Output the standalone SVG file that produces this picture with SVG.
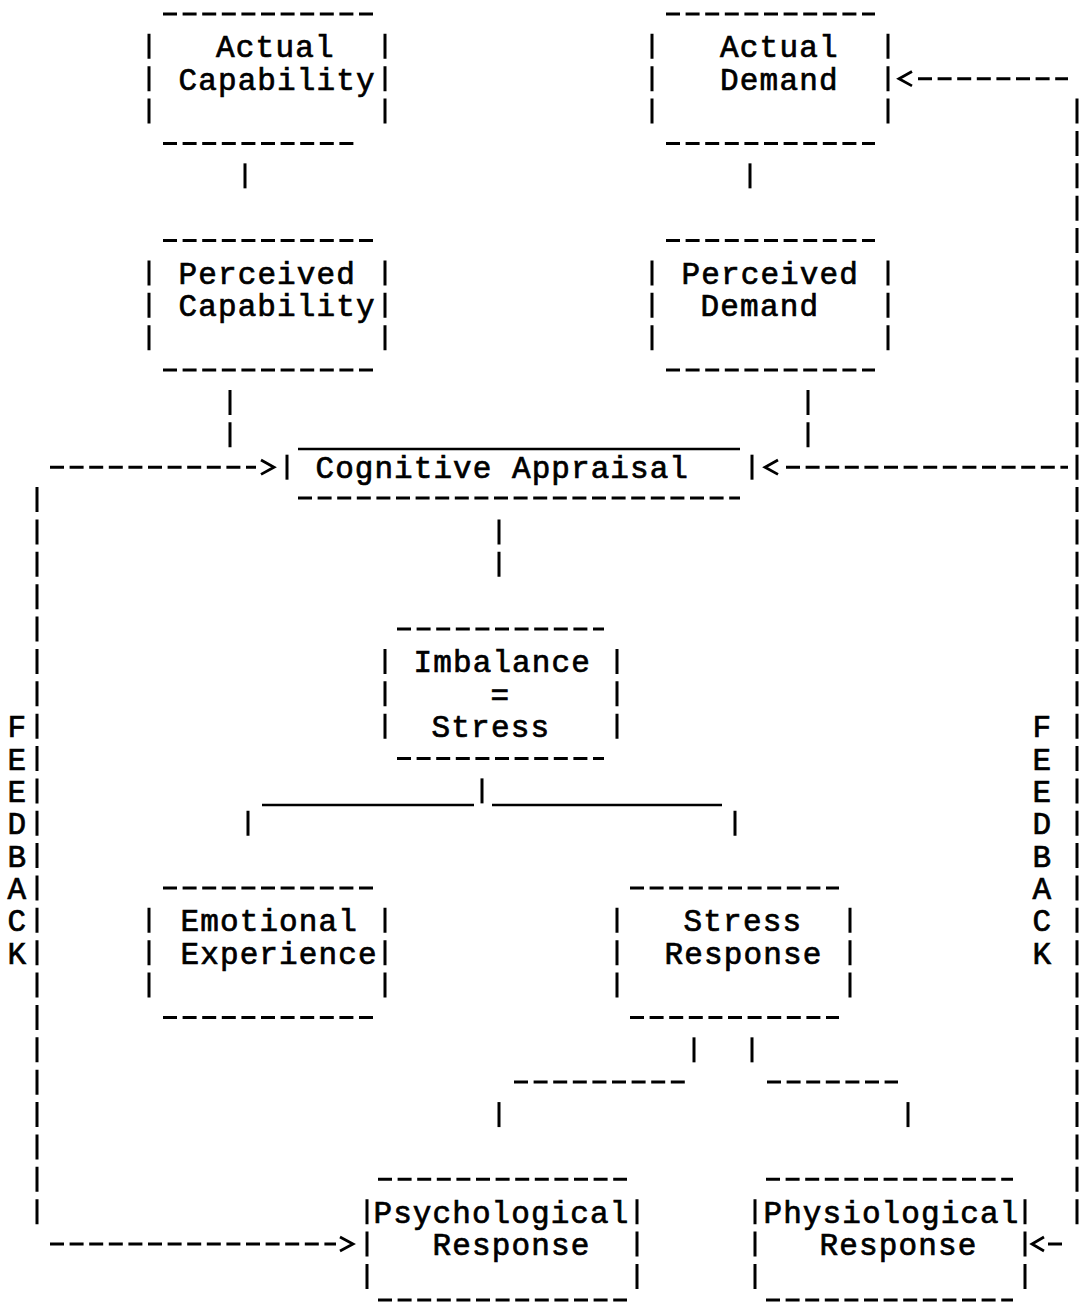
<svg xmlns="http://www.w3.org/2000/svg" width="1080" height="1302" viewBox="0 0 1080 1302">
<style>
.d{stroke:#000;stroke-width:3;stroke-dasharray:14 5.6;fill:none}
.v{stroke:#000;stroke-width:3;stroke-dasharray:25 7.37;fill:none}
.s{stroke:#000;stroke-width:2.5;fill:none}
.a{stroke:#000;stroke-width:2.8;fill:none;stroke-linejoin:miter}
text{font-family:"Liberation Mono","DejaVu Sans Mono",monospace;font-size:31px;font-weight:normal;fill:#000;stroke:#000;stroke-width:0.7}
</style>
<rect width="1080" height="1302" fill="#fff"/>
<g id="connectors">
  <line class="v" x1="245" y1="163.35" x2="245" y2="188.35"/>
  <line class="v" x1="750" y1="163.35" x2="750" y2="188.35"/>
  <line class="v" x1="230" y1="389.94" x2="230" y2="447.31"/>
  <line class="v" x1="808" y1="389.94" x2="808" y2="447.31"/>
  <line class="v" x1="499" y1="519.42" x2="499" y2="576.79"/>
  <line class="v" x1="482" y1="778.38" x2="482" y2="803.38"/>
  <line class="s" x1="262" y1="805" x2="474" y2="805"/>
  <line class="s" x1="492" y1="805" x2="722" y2="805"/>
  <line class="v" x1="248" y1="810.75" x2="248" y2="835.75"/>
  <line class="v" x1="735" y1="810.75" x2="735" y2="835.75"/>
  <line class="v" x1="694" y1="1037.34" x2="694" y2="1062.34"/>
  <line class="v" x1="752" y1="1037.34" x2="752" y2="1062.34"/>
  <line class="d" x1="514" y1="1082" x2="685" y2="1082"/>
  <line class="d" x1="767" y1="1082" x2="898" y2="1082"/>
  <line class="v" x1="499" y1="1102.08" x2="499" y2="1127.08"/>
  <line class="v" x1="908" y1="1102.08" x2="908" y2="1127.08"/>
  <line class="d" x1="50" y1="467.2" x2="256" y2="467.2"/>
  <polyline class="a" points="261,460 274,467.2 261,474.4"/>
  <line class="v" x1="37" y1="487.05" x2="37" y2="1224.19"/>
  <line class="d" x1="50" y1="1244" x2="336" y2="1244"/>
  <polyline class="a" points="340,1237 353,1244 340,1251"/>
  <line class="v" x1="1077" y1="98.61" x2="1077" y2="1224.19"/>
  <polyline class="a" points="912,71.5 899,78.7 912,85.9"/>
  <line class="d" x1="918" y1="78.7" x2="1068" y2="78.7"/>
  <polyline class="a" points="778,460 765,467.2 778,474.4"/>
  <line class="d" x1="786" y1="467.2" x2="1068" y2="467.2"/>
  <polyline class="a" points="1044,1237 1032,1244 1044,1251"/>
  <line class="d" x1="1048" y1="1244" x2="1062" y2="1244"/>
</g>
<g id="feedback-labels">
  <text x="7.5" y="737.1">F</text>
  <text x="7.5" y="769.5">E</text>
  <text x="7.5" y="801.9">E</text>
  <text x="7.5" y="834.3">D</text>
  <text x="7.5" y="866.6">B</text>
  <text x="7.5" y="899">A</text>
  <text x="7.5" y="931.4">C</text>
  <text x="7.5" y="963.7">K</text>
  <text x="1032.5" y="737.1">F</text>
  <text x="1032.5" y="769.5">E</text>
  <text x="1032.5" y="801.9">E</text>
  <text x="1032.5" y="834.3">D</text>
  <text x="1032.5" y="866.6">B</text>
  <text x="1032.5" y="899">A</text>
  <text x="1032.5" y="931.4">C</text>
  <text x="1032.5" y="963.7">K</text>
</g>
<g id="actual-capability">
  <line class="d" x1="163" y1="14" x2="373" y2="14"/>
  <line class="d" x1="163" y1="143.5" x2="354" y2="143.5"/>
  <line class="v" x1="149" y1="33.87" x2="149" y2="123.61"/>
  <line class="v" x1="385" y1="33.87" x2="385" y2="123.61"/>
  <text x="216" y="57.4" textLength="117.6" lengthAdjust="spacing">Actual</text>
  <text x="178.5" y="89.7" textLength="196" lengthAdjust="spacing">Capability</text>
</g>
<g id="perceived-capability">
  <line class="d" x1="163" y1="240.6" x2="373" y2="240.6"/>
  <line class="d" x1="163" y1="370" x2="373" y2="370"/>
  <line class="v" x1="149" y1="260.46" x2="149" y2="350.2"/>
  <line class="v" x1="385" y1="260.46" x2="385" y2="350.2"/>
  <text x="178.5" y="284" textLength="176.4" lengthAdjust="spacing">Perceived</text>
  <text x="178.5" y="316.3" textLength="196" lengthAdjust="spacing">Capability</text>
</g>
<g id="actual-demand">
  <line class="d" x1="666" y1="14" x2="875" y2="14"/>
  <line class="d" x1="666" y1="143.5" x2="875" y2="143.5"/>
  <line class="v" x1="652" y1="33.87" x2="652" y2="123.61"/>
  <line class="v" x1="888" y1="33.87" x2="888" y2="123.61"/>
  <text x="720" y="57.4" textLength="117.6" lengthAdjust="spacing">Actual</text>
  <text x="720" y="89.7" textLength="117.6" lengthAdjust="spacing">Demand</text>
</g>
<g id="perceived-demand">
  <line class="d" x1="666" y1="240.6" x2="875" y2="240.6"/>
  <line class="d" x1="666" y1="370" x2="875" y2="370"/>
  <line class="v" x1="652" y1="260.46" x2="652" y2="350.2"/>
  <line class="v" x1="888" y1="260.46" x2="888" y2="350.2"/>
  <text x="681.5" y="284" textLength="176.4" lengthAdjust="spacing">Perceived</text>
  <text x="700.5" y="316.3" textLength="117.6" lengthAdjust="spacing">Demand</text>
</g>
<g id="cognitive-appraisal">
  <line class="s" x1="298" y1="449" x2="740" y2="449"/>
  <line class="d" x1="298" y1="498" x2="740" y2="498"/>
  <line class="v" x1="287" y1="454.68" x2="287" y2="479.68"/>
  <line class="v" x1="752" y1="454.68" x2="752" y2="479.68"/>
  <text x="315.5" y="478.2" textLength="372.4" lengthAdjust="spacing">Cognitive Appraisal</text>
</g>
<g id="imbalance-stress">
  <line class="d" x1="397" y1="629" x2="604" y2="629"/>
  <line class="d" x1="397" y1="758.5" x2="604" y2="758.5"/>
  <line class="v" x1="385" y1="648.9" x2="385" y2="738.64"/>
  <line class="v" x1="617" y1="648.9" x2="617" y2="738.64"/>
  <text x="413.5" y="672.4" textLength="176.4" lengthAdjust="spacing">Imbalance</text>
  <text x="490.5" y="704.8">=</text>
  <text x="431.5" y="737.1" textLength="117.6" lengthAdjust="spacing">Stress</text>
</g>
<g id="emotional-experience">
  <line class="d" x1="163" y1="888" x2="373" y2="888"/>
  <line class="d" x1="163" y1="1017.5" x2="373" y2="1017.5"/>
  <line class="v" x1="149" y1="907.86" x2="149" y2="997.6"/>
  <line class="v" x1="385" y1="907.86" x2="385" y2="997.6"/>
  <text x="180.5" y="931.4" textLength="176.4" lengthAdjust="spacing">Emotional</text>
  <text x="180.5" y="963.7" textLength="196" lengthAdjust="spacing">Experience</text>
</g>
<g id="stress-response">
  <line class="d" x1="630" y1="888" x2="839" y2="888"/>
  <line class="d" x1="630" y1="1017.5" x2="839" y2="1017.5"/>
  <line class="v" x1="617" y1="907.86" x2="617" y2="997.6"/>
  <line class="v" x1="850" y1="907.86" x2="850" y2="997.6"/>
  <text x="683.5" y="931.4" textLength="117.6" lengthAdjust="spacing">Stress</text>
  <text x="664.5" y="963.7" textLength="156.8" lengthAdjust="spacing">Response</text>
</g>
<g id="psychological-response">
  <line class="d" x1="378" y1="1179.3" x2="627" y2="1179.3"/>
  <line class="d" x1="378" y1="1300" x2="627" y2="1300"/>
  <line class="v" x1="367" y1="1199.19" x2="367" y2="1288.93"/>
  <line class="v" x1="637" y1="1199.19" x2="637" y2="1288.93"/>
  <text x="373.5" y="1222.7" textLength="254.8" lengthAdjust="spacing">Psychological</text>
  <text x="432.5" y="1255" textLength="156.8" lengthAdjust="spacing">Response</text>
</g>
<g id="physiological-response">
  <line class="d" x1="766" y1="1179.3" x2="1013" y2="1179.3"/>
  <line class="d" x1="766" y1="1300" x2="1013" y2="1300"/>
  <line class="v" x1="755" y1="1199.19" x2="755" y2="1288.93"/>
  <line class="v" x1="1025" y1="1199.19" x2="1025" y2="1288.93"/>
  <text x="763.5" y="1222.7" textLength="254.8" lengthAdjust="spacing">Physiological</text>
  <text x="819.5" y="1255" textLength="156.8" lengthAdjust="spacing">Response</text>
</g>
</svg>
